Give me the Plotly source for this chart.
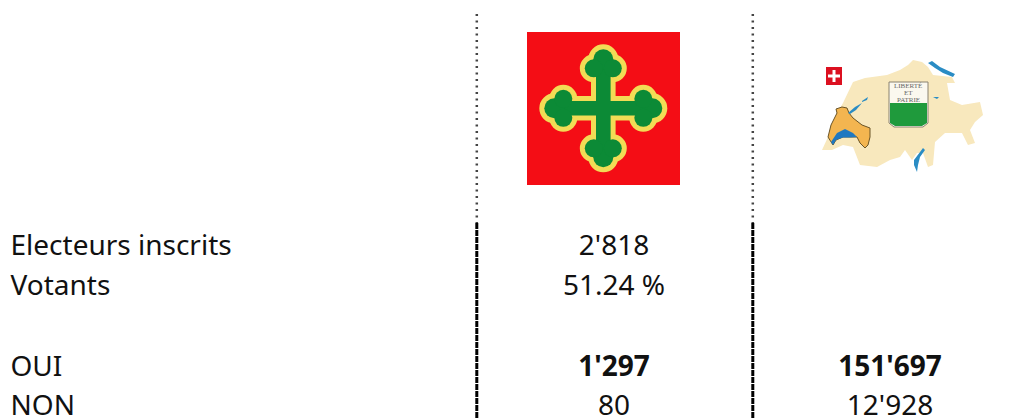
import plotly.graph_objects as go

# ---- table content ----
row_labels = ["Electeurs inscrits", "Votants", "OUI", "NON"]
commune_values = ["2'818", "51.24 %", "<b>1'297</b>", "80"]
canton_values = ["", "", "<b>151'697</b>", "12'928"]

# ---- layout of the table, in page pixels ----
WIDTH, HEIGHT = 1019, 418
row_y = [248, 288, 369, 408]
label_x = 10.5
commune_x = 614
canton_x = 890
divider_x = [476.8, 752.8]
divider_top, divider_break = 14, 223

# ---- flag ----
flag_box = (527, 32, 680, 185)
flag_centre = (603.3, 108.3)
RED, YELLOW, GREEN = "#f40d15", "#f2dc55", "#0c8a36"

# ---- map outlines ----
swiss = [(822,150),(828,137),(837,113),(843,103),(853,82),(865,78),(887,75),(900,70),(908,65),(913,60),
         (922,62),(928,67),(933,75),(952,77),(955,83),(947,83),(950,100),(962,105),(980,102),(983,115),
         (975,122),(970,130),(975,143),(968,145),(962,133),(945,133),(935,142),(933,165),(928,167),
         (923,153),(917,153),(912,160),(905,150),(900,157),(890,160),(877,167),(860,165),(853,147),
         (843,145),(832,150)]
vaud = [(828,137),(831,125),(837,113),(836,109),(842,107),(847,108),(849,113),(853,118),(862,125),(870,128),
        (870,137),(868,145),(865,148),(860,143),(857,137),(850,137),(843,137),(836,140),(833,145)]
leman = [(831,142),(837,133),(845,129),(853,133),(857,137),(850,137.5),(843,137.5),(836,140),(833,145)]
neuchatel = [(848,113),(855,107),(862,103),(856,110),(850,114)]
morat = [(862,101),(868,97),(867,100),(862,102)]
constance = [(928,63),(932,61),(940,67),(955,74),(953,77),(943,73),(935,68)]
ticino = [(923,148),(925,150),(920,157),(918,165),(917,172),(914,165),(914,160)]
walen = [(933,97),(939,97),(937,99)]
shield = [(889,82),(928,82),(928,123),(923,127),(894,127),(889,123)]
shield_green = [(890,103),(927,103),(927,123),(922,126),(895,126),(890,123)]
swiss_flag = (826, 67, 842, 85)
motto = ["LIBERTÉ", "ET", "PATRIE"]
motto_y = [85.5, 92.5, 99.5]

fig = go.Figure()


def poly(points, fill, line=None, width=0):
    path = "M" + " L".join(f"{x},{y}" for x, y in points) + " Z"
    fig.add_shape(type="path", path=path, fillcolor=fill,
                  line=dict(color=line or fill, width=width), layer="below")


def disc(cx, cy, r, fill):
    fig.add_shape(type="circle", x0=cx - r, x1=cx + r, y0=cy - r, y1=cy + r,
                  fillcolor=fill, line_width=0, layer="below")


def box(x0, y0, x1, y1, fill):
    fig.add_shape(type="rect", x0=x0, x1=x1, y0=y0, y1=y1, fillcolor=fill,
                  line_width=0, layer="below")


# Flag
box(*flag_box, RED)
cx, cy = flag_centre
for grow, colour in ((5, YELLOW), (0, GREEN)):
    half = 7.3 + grow
    box(cx - half, cy - 50, cx + half, cy + 50, colour)
    box(cx - 50, cy - half, cx + 50, cy + half, colour)
    for dx, dy in ((0, -1), (0, 1), (-1, 0), (1, 0)):
        px, py = -dy, dx
        disc(cx + dx * 49, cy + dy * 49, 10 + grow, colour)
        for side in (-1, 1):
            disc(cx + dx * 40 + px * side * 9.5, cy + dy * 40 + py * side * 9.5, 9 + grow, colour)

# Map
poly(swiss, "#f8e8bd")
poly(vaud, "#f3b550", "#6a5426", 1)
poly(leman, "#1f78c0")
for lake in (neuchatel, morat, constance, ticino, walen):
    poly(lake, "#2a8cc4")
poly(shield, "#fbf8ef", "#8a8270", 1)
poly(shield_green, "#1f9a3c")
box(*swiss_flag, "#dc1020")
box(832.5, 70, 835.5, 82, "white")
box(828, 74.5, 840, 77.5, "white")
for word, y in zip(motto, motto_y):
    fig.add_annotation(x=908, y=y, text=word, showarrow=False, borderpad=0,
                       font=dict(family="Liberation Serif", size=7, color="#666666"))

# Dividers
for x in divider_x:
    fig.add_shape(type="line", x0=x, x1=x, y0=divider_top, y1=divider_break,
                  line=dict(color="#444444", width=2.5, dash="2px 4.5px"))
    fig.add_shape(type="line", x0=x, x1=x, y0=divider_break, y1=HEIGHT,
                  line=dict(color="#000000", width=3, dash="6px 1px"))

# Table text
FONT = dict(family="Noto Sans", size=28, color="#111111")
fig.add_trace(go.Scatter(x=[label_x] * 4, y=row_y, mode="text", text=row_labels,
                         textposition="middle right", textfont=FONT, hoverinfo="skip"))
fig.add_trace(go.Scatter(x=[commune_x] * 4, y=row_y, mode="text", text=commune_values,
                         textposition="middle center", textfont=FONT, hoverinfo="skip"))
fig.add_trace(go.Scatter(x=[canton_x] * 4, y=row_y, mode="text", text=canton_values,
                         textposition="middle center", textfont=FONT, hoverinfo="skip"))

fig.update_layout(width=WIDTH, height=HEIGHT, margin=dict(l=0, r=0, t=0, b=0),
                  paper_bgcolor="white", plot_bgcolor="white", showlegend=False,
                  xaxis=dict(range=[0, WIDTH], visible=False, fixedrange=True),
                  yaxis=dict(range=[HEIGHT, 0], visible=False, fixedrange=True))
fig.write_html("out.html", config=dict(displayModeBar=False),
               default_width=f"{WIDTH}px", default_height=f"{HEIGHT}px",
               post_script="document.body.style.margin='0';document.body.style.overflow='hidden';")
